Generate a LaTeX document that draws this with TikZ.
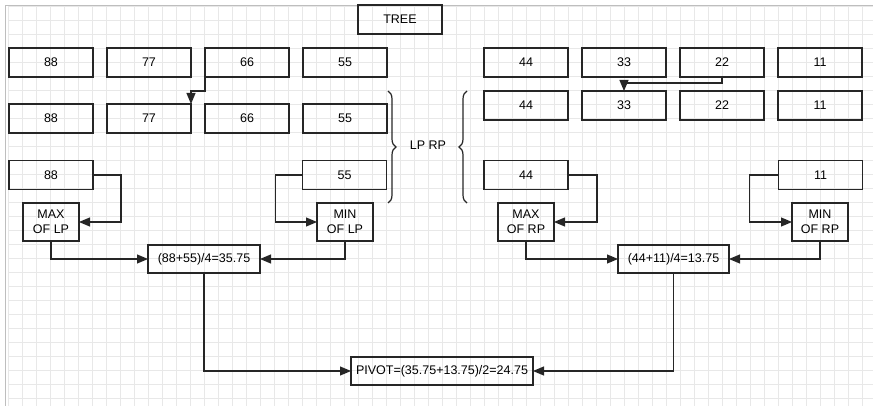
\documentclass[tikz,border=0pt]{standalone}
\usepackage{fontspec}
\setmainfont{Liberation Sans}
\usepackage{xcolor}
\usetikzlibrary{arrows.meta, positioning, calc, decorations.pathreplacing}
\definecolor{gridgray}{RGB}{232,232,232}
\definecolor{edgegray}{RGB}{190,190,190}
\tikzset{every node/.append style={align=center}}
\tikzset{
  num/.style={rectangle, draw=black!85, line width=1.2pt, minimum width=84pt, minimum height=29pt,
    inner sep=0pt, outer sep=0pt, font=\fontsize{12.5}{15}\selectfont},
  ext/.style={rectangle, draw=black!85, line width=1.2pt, minimum width=56pt, minimum height=38pt,
    inner sep=0pt, outer sep=0pt, font=\fontsize{12.5}{15}\selectfont},
  calc/.style={rectangle, draw=black!85, line width=1.2pt, minimum height=28pt, inner sep=0pt,
    outer sep=0pt, font=\fontsize{12.5}{15}\selectfont},
  arrow/.style={-{Triangle[length=11pt,width=9pt]}, line width=1.2pt, black!85},
  brc/.style={line width=1.2pt, black!85, decorate, decoration={brace, amplitude=8pt}}
}

\begin{document}
\begin{tikzpicture}[x=1pt, y=-1pt, node distance=14pt]
  \useasboundingbox (0,0) rectangle (873,406);
  % background grid
  \draw[gridgray, xshift=8pt, yshift=-6pt] (0,0) grid[step=14pt] (866,400);
  \draw[edgegray] (5,406) -- (5,5) -- (873,5);

  \node[num] (tree) at (400,19.5) {TREE};

  % first row
  \node[num] (a1) at (51,62.5) {88};
  \node[num, right=of a1] (a2) {77};
  \node[num, right=of a2] (a3) {66};
  \node[num, right=of a3] (a4) {55};
  \node[num] (a5) at (526,62.5) {44};
  \node[num, right=of a5] (a6) {33};
  \node[num, right=of a6] (a7) {22};
  \node[num, right=of a7] (a8) {11};

  % second row
  \node[num] (b1) at (51,118.5) {88};
  \node[num, right=of b1] (b2) {77};
  \node[num, right=of b2] (b3) {66};
  \node[num, right=of b3] (b4) {55};
  \node[num] (b5) at (526,105.5) {44};
  \node[num, right=of b5] (b6) {33};
  \node[num, right=of b6] (b7) {22};
  \node[num, right=of b7] (b8) {11};

  % third row
  \node[num] (c1) at (51,175) {88};
  \node[num] (c4) at (344.5,175) {55};
  \node[num] (c5) at (526,175) {44};
  \node[num] (c8) at (820.5,175) {11};

  \node[ext] (maxl) at (51,222) {MAX\\OF LP};
  \node[ext] (minl) at (345,222) {MIN\\OF LP};
  \node[ext] (maxr) at (526,222) {MAX\\OF RP};
  \node[ext] (minr) at (820,222) {MIN\\OF RP};

  \node[calc, minimum width=112pt] (avgl) at (204,259) {(88+55)/4=35.75};
  \node[calc, minimum width=111pt] (avgr) at (673.5,259) {(44+11)/4=13.75};
  \node[calc, minimum width=182pt] (pivot) at (442,371) {PIVOT=(35.75+13.75)/2=24.75};

  % partition
  \draw[brc] (388,91) -- (388,203);
  \draw[brc] (467,203) -- (467,91);
  \node[font=\fontsize{12.5}{15}\selectfont] (lprp) at (428,145) {LP RP};

  % swaps
  \draw[arrow] (a3.south west) -- ++(0,14) -| (b2.north east);
  \draw[arrow] (a7.south) -- ++(0,6) -| (b6.north);

  % extremes
  \draw[arrow] (c1.east) -- ++(28,0) |- (maxl.east);
  \draw[arrow] (c4.west) -- ++(-27,0) |- (minl.west);
  \draw[arrow] (c5.east) -- ++(29,0) |- (maxr.east);
  \draw[arrow] (c8.west) -- ++(-29,0) |- (minr.west);
  \draw[arrow] (maxl.south) |- (avgl.west);
  \draw[arrow] (minl.south) |- (avgl.east);
  \draw[arrow] (maxr.south) |- (avgr.west);
  \draw[arrow] (minr.south) |- (avgr.east);
  \draw[arrow] (avgl.south) |- (pivot.west);
  \draw[arrow] (avgr.south) |- (pivot.east);
\end{tikzpicture}
\end{document}
